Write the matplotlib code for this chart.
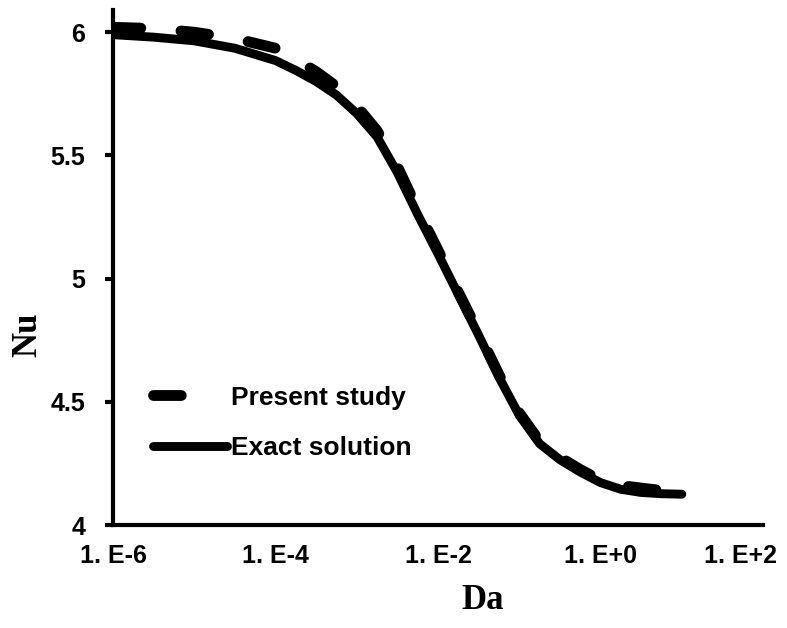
import matplotlib.pyplot as plt
import matplotlib.transforms as mtransforms
import numpy as np

# log10(Da) sample positions and Nusselt number values
log_da = [-6.0, -5.5, -5.0, -4.5, -4.0, -3.75, -3.5, -3.25, -3.0, -2.75, -2.5,
          -2.25, -2.0, -1.75, -1.5, -1.25, -1.0, -0.75, -0.5, -0.25, 0.0, 0.25,
          0.5, 0.75, 1.0]
nu_exact = [5.990, 5.980, 5.965, 5.935, 5.885, 5.845, 5.800, 5.745, 5.670, 5.575,
            5.430, 5.260, 5.100, 4.935, 4.770, 4.600, 4.445, 4.330, 4.265, 4.215,
            4.172, 4.145, 4.132, 4.127, 4.125]
nu_present = [6.020, 6.015, 6.000, 5.975, 5.935, 5.890, 5.840, 5.780, 5.700, 5.600,
              5.455, 5.280, 5.115, 4.945, 4.780, 4.610, 4.455, 4.340, 4.275, 4.225,
              4.182, 4.160, 4.150, 4.140, 4.135]

xtick_vals = [1e-6, 1e-4, 1e-2, 1e0, 1e2]
xtick_labels = ['1. E-6', '1. E-4', '1. E-2', '1. E+0', '1. E+2']
ytick_vals = [4, 4.5, 5, 5.5, 6]
ytick_labels = ['4', '4.5', '5', '5.5', '6']

plt.rcParams['lines.scale_dashes'] = False
plt.rcParams['font.family'] = ['Liberation Sans', 'DejaVu Sans']

da = 10.0 ** np.array(log_da)

fig = plt.figure(figsize=(7.87, 6.28), dpi=100)
ax = fig.add_axes([0.1436, 0.164, 0.826, 0.820])

ax.plot(da, nu_present, color='black', lw=7.8, linestyle=(0, (20, 29)),
        dash_capstyle='round', label='Present study')
ax.plot(da, nu_exact, color='black', lw=6.4, solid_capstyle='round',
        solid_joinstyle='round', label='Exact solution')

ax.set_xscale('log')
ax.set_xlim(1e-6, 1e2)
ax.set_ylim(4, 6.09)

ax.set_xticks(xtick_vals)
ax.set_xticklabels(xtick_labels)
ax.minorticks_off()
ax.set_yticks(ytick_vals)
ax.set_yticklabels(ytick_labels)

for lab in ax.get_xticklabels() + ax.get_yticklabels():
    lab.set_fontweight('bold')
    lab.set_fontsize(18)

ax.tick_params(axis='x', length=0, pad=14)
ax.tick_params(axis='y', length=6, width=3, pad=14)

# keep the last x label inside the figure
last = ax.get_xticklabels()[-1]
last.set_transform(last.get_transform() +
                   mtransforms.ScaledTranslation(-0.23, 0, fig.dpi_scale_trans))

for side in ['top', 'right']:
    ax.spines[side].set_visible(False)
for side in ['left', 'bottom']:
    ax.spines[side].set_linewidth(3)

ax.set_xlabel('Da', fontsize=25, fontweight='bold', family='Liberation Serif')
ax.set_ylabel('Nu', fontsize=25, fontweight='bold', family='Liberation Serif')
ax.xaxis.set_label_coords(0.569, -0.115)
ax.yaxis.set_label_coords(-0.106, 0.369)

leg = ax.legend(loc='lower left', bbox_to_anchor=(0.025, 0.08), frameon=False,
                handlelength=2.8, handletextpad=0.15, labelspacing=1.0,
                prop={'weight': 'bold', 'size': 19})
# a single dash for the dashed legend sample
leg.get_lines()[0].set_dashes([20, 60])

fig.savefig('out.png', dpi=100)
